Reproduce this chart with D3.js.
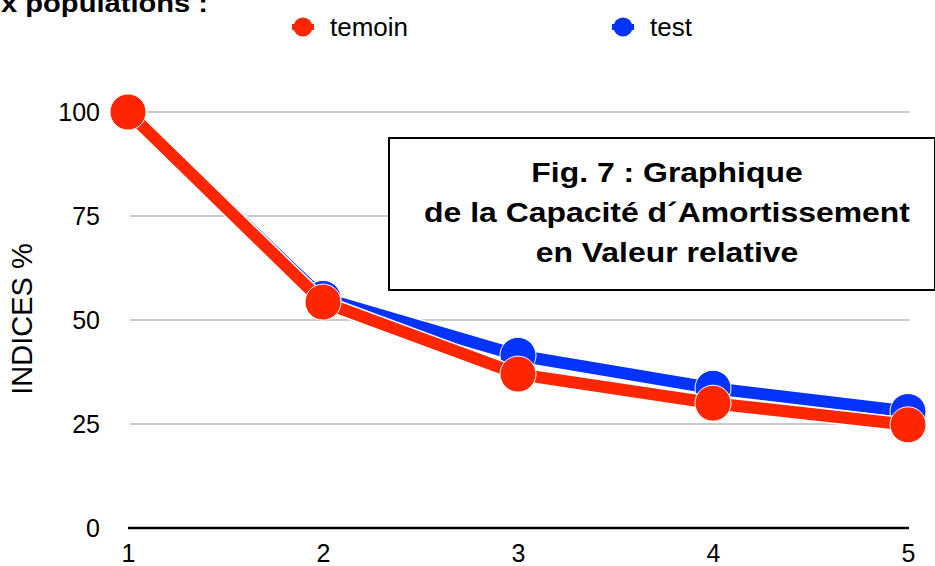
<!DOCTYPE html>
<html><head><meta charset="utf-8">
<script src="https://cdn.jsdelivr.net/npm/d3@7"></script>
<style>body{margin:0;background:#fff;} svg{display:block;font-family:"Liberation Sans",Arial,Helvetica,sans-serif;}</style>
</head><body>
<svg id="c" width="935" height="566"></svg>
<script>
const categories = [1, 2, 3, 4, 5];
const temoin = [100, 54.3, 37.0, 30.0, 24.8];
const test = [100, 55.2, 41.5, 33.6, 28.0];
const yTicks = [0, 25, 50, 75, 100];
const seriesNames = ["temoin", "test"];
const seriesColors = {temoin: "#FF2600", test: "#0433FF"};
const titleLines = ["Fig. 7 : Graphique", "de la Capacité d´Amortissement", "en Valeur relative"];

const svg = d3.select("#c");
const x = d3.scalePoint().domain(categories).range([128, 908]);
const y = d3.scaleLinear().domain([0, 100]).range([528, 112]);

// top-left cut title
svg.append("text").attr("transform", "translate(208,12) scale(1.12,1)").attr("text-anchor", "end")
  .attr("font-size", 26).attr("font-weight", "bold").text("x populations :");

// gridlines
svg.append("g").selectAll("line").data(yTicks.filter(d => d > 0)).join("line")
  .attr("x1", 130).attr("x2", 909).attr("y1", d => y(d)).attr("y2", d => y(d))
  .attr("stroke", "#b8b8b8").attr("stroke-width", 1.5);

// y axis labels
const ya = svg.append("g").attr("transform", "translate(100,0)")
  .call(d3.axisLeft(y).tickValues(yTicks).tickSize(0).tickPadding(0));
ya.select(".domain").remove();
ya.selectAll("text").attr("font-size", 25).attr("fill", "#000").attr("font-family", null);

// x axis
const xa = svg.append("g").attr("transform", "translate(0,528)")
  .call(d3.axisBottom(x).tickSize(0).tickPadding(16));
xa.select(".domain").attr("stroke", "#000").attr("stroke-width", 2.5).attr("d", "M128,0H909");
xa.selectAll("text").attr("font-size", 25).attr("fill", "#000").attr("font-family", null);

// y axis title
svg.append("text").attr("transform", "translate(32,319) rotate(-90)").attr("text-anchor", "middle")
  .attr("font-size", 29).text("INDICES %");

// title box
const box = svg.append("g");
box.append("rect").attr("x", 389).attr("y", 138).attr("width", 546).attr("height", 152)
  .attr("fill", "#fff").attr("stroke", "#000").attr("stroke-width", 2);
box.selectAll("text").data(titleLines).join("text")
  .attr("transform", (d, i) => `translate(667,${182 + i * 40}) scale(1.14,1)`).attr("text-anchor", "middle")
  .attr("font-size", 28).attr("font-weight", "bold").text(d => d);

// series
const data = {temoin, test};
const line = d3.line().x((d, i) => x(categories[i])).y(d => y(d));
["test", "temoin"].forEach(name => {
  const g = svg.append("g");
  const vals = data[name];
  g.append("path").attr("d", line(vals)).attr("fill", "none").attr("stroke", "#fff")
    .attr("stroke-width", 15).attr("stroke-linejoin", "round");
  g.append("path").attr("d", line(vals)).attr("fill", "none").attr("stroke", seriesColors[name])
    .attr("stroke-width", 12).attr("stroke-linejoin", "round");
  g.selectAll("circle").data(vals).join("circle")
    .attr("cx", (d, i) => x(categories[i])).attr("cy", d => y(d)).attr("r", 18)
    .attr("fill", seriesColors[name]).attr("stroke", "#fff").attr("stroke-width", 1);
});

// legend
const legX = {temoin: 303, test: 623};
seriesNames.forEach(name => {
  const g = svg.append("g").attr("transform", `translate(${legX[name]},27)`);
  g.append("line").attr("x1", -11).attr("x2", 11).attr("stroke", seriesColors[name]).attr("stroke-width", 6);
  g.append("circle").attr("r", 9.5).attr("fill", seriesColors[name]);
  g.append("text").attr("x", 27).attr("y", 9).attr("font-size", 26).text(name);
});
</script>
</body></html>
